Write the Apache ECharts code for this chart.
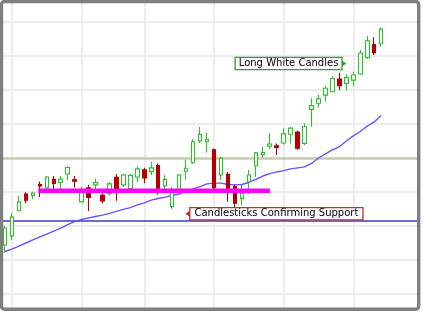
<!DOCTYPE html>
<html>
<head>
<meta charset="utf-8">
<script src="https://cdn.jsdelivr.net/npm/echarts@6/dist/echarts.min.js"></script>
<style>
  html, body { margin: 0; padding: 0; background: #fff; }
  #chart { width: 423px; height: 314px; }
</style>
</head>
<body>
<div id="chart"></div>
<script>
// ---- data ----
const categories = Array.from({ length: 60 }, (_, i) => 'Day ' + (i + 1)); // 55 sessions + 5 empty slots
const opens  = [11.44,11.71,12.45,12.94,12.90,13.22,13.12,13.37,13.28,13.53,13.36,12.71,13.12,13.21,12.90,12.96,13.43,13.21,13.10,13.44,13.65,13.60,13.78,13.18,12.57,13.08,13.61,13.86,14.50,14.48,14.24,13.50,13.52,13.16,12.81,13.30,13.77,14.10,14.35,14.36,14.44,14.70,14.76,14.43,15.43,15.61,15.85,15.95,16.32,16.19,16.29,16.47,16.96,17.34,17.36];
const closes = [11.94,12.26,12.71,12.76,12.97,13.18,13.44,13.25,13.38,13.72,13.32,12.98,12.84,13.28,12.74,13.24,13.06,13.50,13.49,13.68,13.41,13.71,13.11,13.37,13.06,13.50,13.70,14.48,14.69,14.55,13.13,13.99,13.10,12.67,12.96,13.50,14.15,14.16,14.41,14.31,14.71,14.88,14.29,14.92,15.54,15.74,16.05,16.34,16.13,16.37,16.44,17.09,17.45,17.10,17.79];
const lows   = [11.21,11.59,12.44,12.68,12.79,12.85,13.06,13.07,13.09,13.35,13.13,12.69,12.44,13.09,12.66,12.90,12.74,13.15,13.06,13.29,13.26,13.50,12.93,13.09,12.51,13.04,13.37,13.82,14.44,14.16,13.07,13.35,12.71,12.51,12.62,12.94,13.45,14.01,14.26,14.09,14.40,14.43,14.24,14.38,14.92,15.49,15.66,15.93,15.99,15.99,16.12,16.44,16.91,17.03,17.27];
const highs  = [12.00,12.38,12.88,12.99,13.01,13.31,13.47,13.47,13.47,13.76,13.47,13.16,13.21,13.40,12.99,13.29,13.53,13.53,13.53,13.76,13.71,13.89,13.84,13.49,13.15,13.53,13.95,14.56,14.91,14.74,14.28,14.03,13.59,13.21,13.21,13.65,14.18,14.33,14.73,14.43,14.87,14.91,14.80,15.02,15.76,15.85,16.12,16.41,16.51,16.46,16.54,17.18,17.59,17.55,17.84];
const movingAvg = [11.25,11.32,11.41,11.50,11.59,11.68,11.76,11.85,11.94,12.04,12.13,12.19,12.24,12.28,12.32,12.37,12.43,12.49,12.54,12.62,12.68,12.76,12.81,12.85,12.90,12.94,13.03,13.09,13.16,13.24,13.26,13.26,13.22,13.21,13.22,13.28,13.37,13.47,13.54,13.59,13.63,13.68,13.71,13.74,13.84,14.00,14.12,14.24,14.33,14.50,14.65,14.78,14.94,15.06,15.25];

const yGridValues = [10, 11, 12, 13, 15, 16, 17, 18];   // light gridlines
const oliveLevel = 14;                                   // highlighted gridline
const xGridIndices = [1, 11, 20, 30, 40, 50];            // vertical gridlines (session index)
const blueLevel = 12.16;                                 // horizontal blue line
const supportLine = [[4.78, 13.035], [38.04, 13.035]];   // magenta support segment
const noteWhite = { text: 'Long White Candles', at: [48.64, 16.78] };
const noteSupport = { text: 'Candlesticks Confirming Support', at: [26.26, 12.36] };
const yMin = 327 / 34, yMax = 631 / 34;

// ---- chart ----
const candleData = opens.map((o, i) => [o, closes[i], lows[i], highs[i]]);
const chart = echarts.init(document.getElementById('chart'), null, { renderer: 'canvas' });
const FONT = '"DejaVu Sans", Verdana, sans-serif';

chart.setOption({
  animation: false,
  backgroundColor: '#ffffff',
  grid: { left: 1.5, top: 3, width: 418, height: 304, containLabel: false },
  xAxis: [
    { type: 'category', data: categories, boundaryGap: true, show: false },
    { type: 'value', min: -0.5, max: 59.5, show: false }
  ],
  yAxis: [
    { type: 'value', min: yMin, max: yMax, show: false, splitLine: { show: false } }
  ],
  series: [
    { // gridlines
      type: 'line', xAxisIndex: 1, data: [], silent: true,
      markLine: {
        silent: true, symbol: 'none', z: 0, animation: false,
        label: { show: false },
        lineStyle: { color: '#ececec', width: 2, type: 'solid' },
        data: yGridValues.map(v => ({ yAxis: v })).concat(xGridIndices.map(v => ({ xAxis: v })))
      }
    },
    { // olive + blue horizontal lines
      type: 'line', xAxisIndex: 1, data: [], silent: true,
      markLine: {
        silent: true, symbol: 'none', z: 1, animation: false,
        label: { show: false },
        data: [
          { yAxis: oliveLevel, lineStyle: { color: '#c9c9b2', width: 2.5, type: 'solid' } },
          { yAxis: blueLevel, lineStyle: { color: '#3a3ad0', width: 1.5, type: 'solid' } }
        ]
      }
    },
    { // moving average
      type: 'line', data: movingAvg, showSymbol: false, z: 2, silent: true,
      lineStyle: { color: '#6a50ff', width: 1.4 }
    },
    { // candles
      type: 'candlestick', data: candleData, z: 3, barWidth: 4, silent: true,
      itemStyle: {
        color: '#ffffff', color0: '#b20000',
        borderColor: '#2fbf2f', borderColor0: '#b20000', borderWidth: 1.1
      }
    },
    { // support segment
      type: 'line', xAxisIndex: 1, data: supportLine, showSymbol: false, z: 4, silent: true,
      lineStyle: { color: '#ff00ff', width: 4.5, cap: 'butt' }
    },
    { // annotations
      type: 'line', xAxisIndex: 1, data: [], silent: true,
      markPoint: {
        z: 6, silent: true, animation: false,
        data: [
          {
            coord: noteWhite.at, symbol: 'path://M0,0L10,5L0,10Z', symbolSize: [5, 7],
            itemStyle: { color: '#33a033' },
            label: {
              show: true, position: 'left', distance: 0, formatter: noteWhite.text,
              fontFamily: FONT, fontSize: 10, color: '#000', lineHeight: 10,
              backgroundColor: '#fff', borderColor: '#33a033', borderWidth: 1.3,
              padding: [1, 3, 0, 3]
            }
          },
          {
            coord: noteSupport.at, symbol: 'path://M10,0L0,5L10,10Z', symbolSize: [5, 7],
            itemStyle: { color: '#b83030' },
            label: {
              show: true, position: 'right', distance: 0, formatter: noteSupport.text,
              fontFamily: FONT, fontSize: 10, color: '#000', lineHeight: 10,
              backgroundColor: '#fff', borderColor: '#b83030', borderWidth: 1.3,
              padding: [1, 4, 0, 4]
            }
          }
        ]
      }
    }
  ],
  graphic: [
    {
      type: 'rect', z: 100, silent: true,
      shape: { x: 1.5, y: 1.5, width: 417.2, height: 307.8, r: 3 },
      style: { fill: 'none', stroke: '#7f7f7f', lineWidth: 3.4 }
    }
  ]
});
</script>
</body>
</html>
